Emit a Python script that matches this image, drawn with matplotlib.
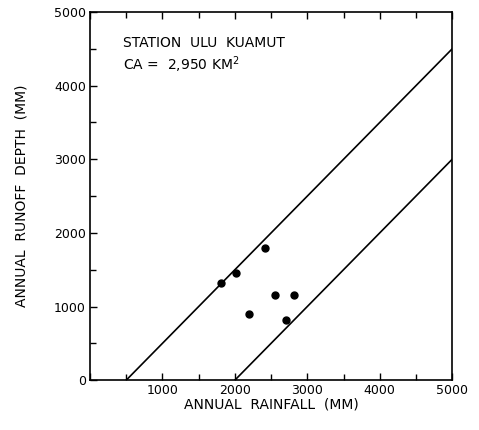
import numpy as np
import matplotlib.pyplot as plt
from matplotlib.ticker import MultipleLocator

# annual rainfall vs annual runoff depth, mm
rainfall = np.array([1810, 2020, 2420, 2200, 2550, 2810, 2710])
runoff = np.array([1320, 1460, 1800, 900, 1150, 1150, 810])

# envelope lines: runoff = rainfall - loss
losses = [500, 2000]

ticks = [0, 1000, 2000, 3000, 4000, 5000]
xticklabels = ['', '1000', '2000', '3000', '4000', '5000']
yticklabels = ['0', '1000', '2000', '3000', '4000', '5000']

plt.rcParams['font.family'] = 'DejaVu Sans'

fig = plt.figure(figsize=(4.79, 4.30), dpi=100)
ax = fig.add_axes([0.188, 0.116, 0.756, 0.856])

for loss in losses:
    xs = np.array([loss, 5000])
    ax.plot(xs, xs - loss, color='black', lw=1.2)

ax.plot(rainfall, runoff, 'o', color='black', ms=5)

ax.set_xlim(0, 5000)
ax.set_ylim(0, 5000)
ax.set_xticks(ticks)
ax.set_xticklabels(xticklabels)
ax.set_yticks(ticks)
ax.set_yticklabels(yticklabels)
ax.xaxis.set_minor_locator(MultipleLocator(500))
ax.yaxis.set_minor_locator(MultipleLocator(500))
ax.tick_params(which='both', direction='in', top=True, right=False,
               labelsize=9, width=1, pad=3)
ax.tick_params(which='major', length=5)
ax.tick_params(which='minor', length=4)
for s in ax.spines.values():
    s.set_linewidth(1.2)

ax.set_xlabel('ANNUAL  RAINFALL  (MM)', fontsize=10, labelpad=0)
ax.set_ylabel('ANNUAL  RUNOFF  DEPTH  (MM)', fontsize=10, labelpad=18)

ax.text(0.09, 0.935, 'STATION  ULU  KUAMUT', transform=ax.transAxes,
        fontsize=10, va='top')
ax.text(0.09, 0.885, 'CA =  2,950 KM$^2$', transform=ax.transAxes,
        fontsize=10, va='top')

fig.savefig('out.png', dpi=100)
